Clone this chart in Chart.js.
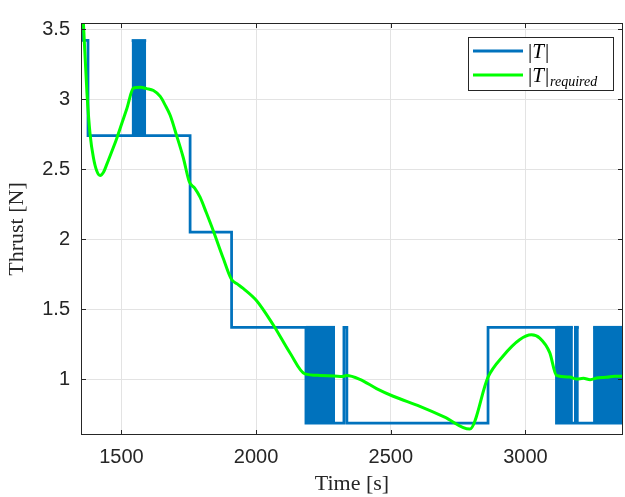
<!DOCTYPE html>
<html>
<head>
<meta charset="utf-8">
<script src="https://cdn.jsdelivr.net/npm/chart.js@4.4.0/dist/chart.umd.min.js"></script>
<style>
  html, body { margin: 0; padding: 0; background: #fff; }
  #wrap { width: 625px; height: 497px; }
</style>
</head>
<body>
<div id="wrap"><canvas id="thrustChart"></canvas></div>
<script>
const xTicks = [1500, 2000, 2500, 3000];
const yTicks = [1, 1.5, 2, 2.5, 3, 3.5];

// |T| : value holds from each time to the next one
const stepTimes  = [1350, 1357, 1376, 1755, 1909, 2185, 2293, 2326, 2337, 2861, 3115, 3362];
const stepValues = [4.0, 3.42, 2.74, 2.05, 1.37, 0.685, 0.685, 1.37, 0.685, 1.37, 0.685, 0.685];

// bang-bang chatter, drawn as solid blocks between low and high level
const chatterStart = [1538, 2185, 3115, 3180, 3251];
const chatterEnd   = [1592, 2293, 3176, 3198, 3362];
const chatterLow   = [2.74, 0.685, 0.685, 0.685, 0.685];
const chatterHigh  = [3.42, 1.37, 1.37, 1.37, 1.37];

// |T|_required
const reqTimes = [1353, 1359, 1372, 1384, 1396, 1408, 1421, 1434, 1446, 1465, 1483, 1502, 1520, 1545,
  1570, 1594, 1619, 1644, 1662, 1681, 1705, 1730, 1752, 1772, 1792, 1815, 1841, 1878, 1909, 1930, 1952,
  2002, 2064, 2126, 2181, 2237, 2290, 2320, 2336, 2385, 2447, 2509, 2608, 2700, 2793, 2861, 2917, 2978,
  3022, 3053, 3090, 3115, 3164, 3190, 3215, 3240, 3270, 3300, 3330, 3362];
const reqValues = [3.78, 3.545, 3.048, 2.745, 2.583, 2.49, 2.455, 2.48, 2.536, 2.63, 2.722, 2.83, 2.932, 3.08,
  3.085, 3.076, 3.062, 3.02, 2.96, 2.885, 2.74, 2.58, 2.41, 2.365, 2.30, 2.19, 2.06, 1.863, 1.711, 1.68, 1.648,
  1.56, 1.386, 1.186, 1.037, 1.026, 1.022, 1.018, 1.025, 0.998, 0.932, 0.877, 0.805, 0.728, 0.642, 1.014, 1.165,
  1.281, 1.316, 1.293, 1.189, 1.026, 1.014, 1.0, 1.005, 0.995, 1.01, 1.012, 1.02, 1.02];

const BLUE = '#0072BD';
const GREEN = '#00FF00';
const AXIS = '#262626';

const datasets = [
    {
        label: '|T|_required',
        data: reqTimes.map((t, i) => ({ x: t, y: reqValues[i] })),
        borderColor: GREEN,
        borderWidth: 3,
        cubicInterpolationMode: 'monotone',
        pointRadius: 0,
        fill: false,
        clip: 0
    },
    {
        label: '|T|',
        data: stepTimes.map((t, i) => ({ x: t, y: stepValues[i] })),
        borderColor: BLUE,
        borderWidth: 2.75,
        stepped: 'before',
        borderJoinStyle: 'miter',
        pointRadius: 0,
        fill: false,
        clip: 0
    }
];

chatterStart.forEach((s, i) => {
    datasets.push({
        label: 'chatter',
        data: [{ x: s, y: chatterHigh[i] }, { x: chatterEnd[i], y: chatterHigh[i] }],
        borderColor: BLUE,
        borderWidth: 2.75,
        backgroundColor: BLUE,
        fill: { value: chatterLow[i] },
        pointRadius: 0,
        clip: 0
    });
});

const matlabBox = {
    id: 'matlabBox',
    afterDraw(chart) {
        const { ctx, chartArea: a, scales: { x, y } } = chart;
        ctx.save();
        ctx.strokeStyle = AXIS;
        ctx.lineWidth = 1;
        ctx.beginPath();
        xTicks.forEach(v => {
            const px = Math.round(x.getPixelForValue(v)) + 0.5;
            ctx.moveTo(px, a.bottom); ctx.lineTo(px, a.bottom - 5);
            ctx.moveTo(px, a.top); ctx.lineTo(px, a.top + 5);
        });
        yTicks.forEach(v => {
            const py = Math.round(y.getPixelForValue(v)) + 0.5;
            ctx.moveTo(a.left, py); ctx.lineTo(a.left + 5, py);
            ctx.moveTo(a.right, py); ctx.lineTo(a.right - 5, py);
        });
        ctx.stroke();
        ctx.strokeRect(a.left + 0.5, a.top + 0.5, a.width - 1, a.height - 1);

        // legend
        const lx = a.right - 155, ly = a.top + 14, lw = 145, lh = 53;
        ctx.fillStyle = '#fff';
        ctx.fillRect(lx, ly, lw, lh);
        ctx.strokeStyle = AXIS;
        ctx.strokeRect(lx + 0.5, ly + 0.5, lw, lh);

        ctx.lineWidth = 3;
        ctx.strokeStyle = BLUE;
        ctx.beginPath(); ctx.moveTo(lx + 5, ly + 14); ctx.lineTo(lx + 55, ly + 14); ctx.stroke();
        ctx.strokeStyle = GREEN;
        ctx.beginPath(); ctx.moveTo(lx + 5, ly + 38); ctx.lineTo(lx + 55, ly + 38); ctx.stroke();

        ctx.fillStyle = '#000';
        ctx.textBaseline = 'alphabetic';
        ctx.textAlign = 'left';
        const drawAbs = (x0, base) => {
            ctx.font = '21px "Liberation Serif"';
            ctx.fillText('|', x0, base);
            let cx = x0 + ctx.measureText('|').width;
            ctx.font = 'italic 21px "Liberation Serif"';
            ctx.fillText('T', cx, base);
            cx += ctx.measureText('T').width + 1;
            ctx.font = '21px "Liberation Serif"';
            ctx.fillText('|', cx, base);
            return cx + ctx.measureText('|').width;
        };
        drawAbs(lx + 60, ly + 21);
        const end = drawAbs(lx + 60, ly + 45);
        ctx.font = 'italic 14px "Liberation Serif"';
        ctx.fillText('required', end + 1, ly + 49);
        ctx.restore();
    }
};

new Chart(document.getElementById('thrustChart').getContext('2d'), {
    type: 'line',
    data: { datasets },
    options: {
        responsive: true,
        maintainAspectRatio: false,
        animation: false,
        devicePixelRatio: 1,
        layout: { padding: { top: 12, right: 2, left: 0, bottom: 0 } },
        plugins: {
            legend: { display: false },
            tooltip: { enabled: false }
        },
        scales: {
            x: {
                type: 'linear',
                min: 1350,
                max: 3362,
                afterFit: s => { s.height = 62; },
                afterBuildTicks: s => { s.ticks = xTicks.map(v => ({ value: v })); },
                grid: { color: '#e3e3e3', drawTicks: false },
                border: { display: false },
                ticks: {
                    padding: 10,
                    color: AXIS,
                    font: { family: '"Liberation Sans", Arial', size: 20 },
                    callback: v => String(v)
                },
                title: {
                    display: true,
                    text: 'Time [s]',
                    color: AXIS,
                    font: { family: '"Liberation Serif"', size: 22 },
                    padding: { top: 0, bottom: 0 }
                }
            },
            y: {
                type: 'linear',
                min: 0.6,
                max: 3.545,
                afterFit: s => { s.width = 81; },
                afterBuildTicks: s => { s.ticks = yTicks.map(v => ({ value: v })); },
                grid: { color: '#e3e3e3', drawTicks: false },
                border: { display: false },
                ticks: {
                    padding: 11,
                    color: AXIS,
                    font: { family: '"Liberation Sans", Arial', size: 20 },
                    callback: v => String(v)
                },
                title: {
                    display: true,
                    text: 'Thrust [N]',
                    color: AXIS,
                    font: { family: '"Liberation Serif"', size: 22 },
                    padding: { top: 4, bottom: 0 }
                }
            }
        }
    },
    plugins: [matlabBox]
});
</script>
</body>
</html>
